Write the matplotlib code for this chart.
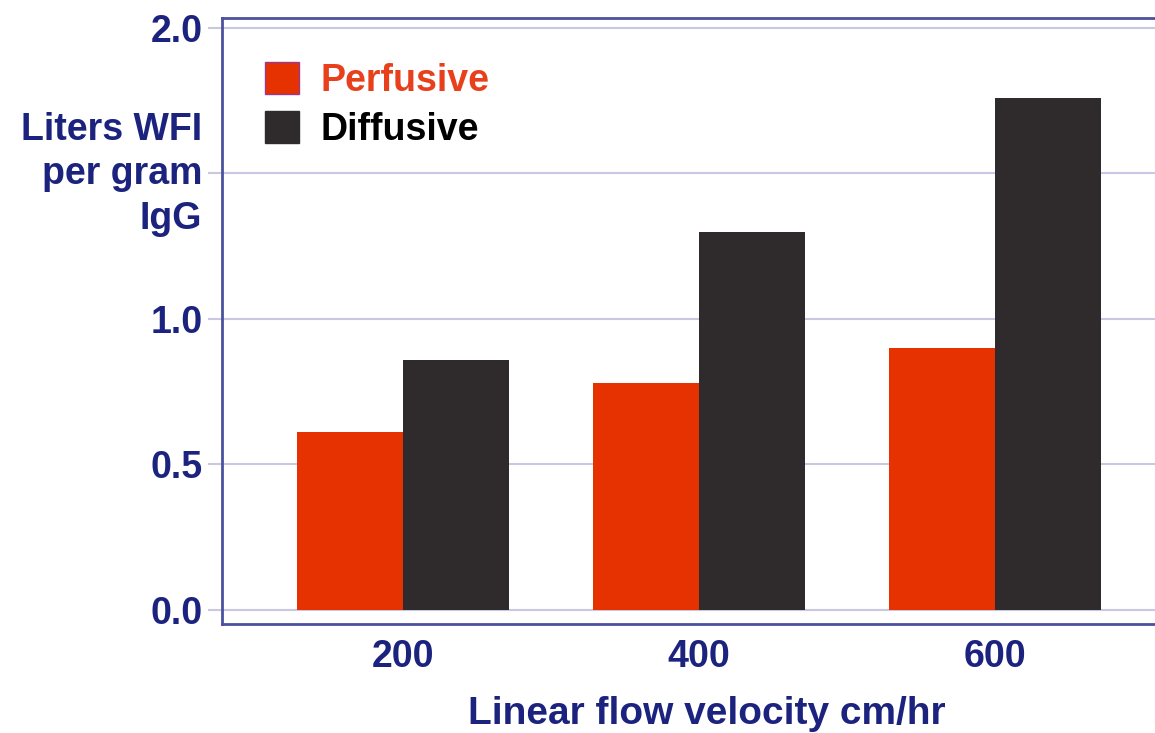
import matplotlib.pyplot as plt
import numpy as np
from matplotlib.patches import Patch

velocities = ["200", "400", "600"]
perfusive = [0.61, 0.78, 0.90]
diffusive = [0.86, 1.30, 1.76]
series_names = ["Perfusive", "Diffusive"]
ytick_values = [0.0, 0.5, 1.0, 1.5, 2.0]
ytick_labels = ["0.0", "0.5", "1.0", "", "2.0"]

NAVY = "#1B237E"
RED = "#E53200"
DARK = "#2F2A2B"
GRID = "#C8C8E2"
SPINE = "#4C519E"

plt.rcParams["font.family"] = ["Liberation Sans", "DejaVu Sans"]
plt.rcParams["font.weight"] = "bold"

W, H = 1155, 733
fig = plt.figure(figsize=(W / 100, H / 100), dpi=100)
ax = fig.add_axes([222 / W, 1 - 624 / H, (W - 222) / W, (624 - 18) / H])

x = np.arange(len(velocities))
width = 0.358
ax.bar(x - width / 2, perfusive, width, color=RED, zorder=3)
ax.bar(x + width / 2, diffusive, width, color=DARK, zorder=3)

ax.set_xlim(-0.611, 2.54)
ax.set_ylim(-0.048, 2.034)
ax.set_yticks(ytick_values)
ax.set_yticklabels(ytick_labels)
ax.set_xticks(x)
ax.set_xticklabels(velocities)
ax.yaxis.grid(True, color=GRID, linewidth=1.5, zorder=0)
ax.tick_params(axis="y", length=10, width=1.5, color=GRID, pad=4,
               labelsize=27, labelcolor=NAVY)
ax.tick_params(axis="x", length=0, pad=11, labelsize=27, labelcolor=NAVY)

for side in ["left", "top", "bottom"]:
    ax.spines[side].set_color(SPINE)
    ax.spines[side].set_linewidth(2)
ax.spines["right"].set_visible(False)

ax.set_ylabel("Liters WFI\nper gram\nIgG", rotation=0, ha="right", va="center",
              multialignment="right", fontsize=27, color=NAVY, fontweight="bold",
              linespacing=1.3)
ax.yaxis.set_label_coords(-0.021, 0.742)
ax.set_xlabel("Linear flow velocity cm/hr", fontsize=28, color=NAVY,
              fontweight="bold")
ax.xaxis.set_label_coords((707 - 222) / (W - 222), -0.119)

handles = [Patch(facecolor=RED, edgecolor="#9B3A8A", linewidth=1),
           Patch(facecolor=DARK, edgecolor=DARK)]
leg = ax.legend(handles, series_names, loc="upper left",
                bbox_to_anchor=(0.046, 0.928), frameon=False, fontsize=27,
                handlelength=0.92, handleheight=0.95, handletextpad=0.55,
                labelspacing=0.32, borderpad=0, borderaxespad=0)
leg.get_texts()[0].set_color("#E8401C")
leg.get_texts()[1].set_color("black")

fig.savefig("out.png", dpi=100)
